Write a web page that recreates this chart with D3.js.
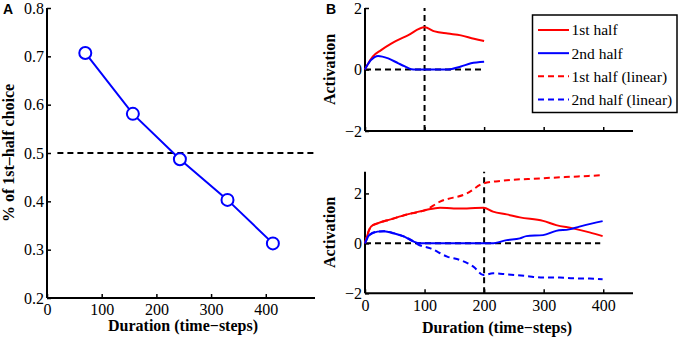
<!DOCTYPE html>
<html>
<head>
<meta charset="utf-8">
<script src="https://cdn.jsdelivr.net/npm/d3@7"></script>
<style>
  body { margin: 0; background: #fff; }
</style>
</head>
<body>
<div id="chart"></div>
<script>
// Panel A: choice proportion vs duration
const durationsA = [70, 157, 243, 330, 413];
const choiceA = [0.707, 0.581, 0.487, 0.403, 0.313];

// Panel B top (duration 200), [time, activation]
const topFirst = [[0,0],[4,0.15],[13,0.42],[27,0.63],[44,0.84],[72,1.11],[100,1.37],[117,1.24],[139,1.17],[161,1.11],[183,1.0],[200,0.93]];
const topSecond = [[0,0],[4,0.15],[16,0.4],[22,0.44],[39,0.36],[56,0.2],[67,0.1],[78,0.01],[85,0],[139,0],[161,0.1],[178,0.2],[200,0.25]];

// Panel B bottom (duration 400)
const botFirst = [[0,0],[10,0.67],[21,0.8],[43,0.96],[71,1.16],[101,1.33],[126,1.43],[149,1.4],[171,1.4],[199,1.43],[215,1.27],[238,1.16],[260,1.04],[299,0.9],[321,0.73],[349,0.6],[377,0.44],[399,0.29]];
const botSecond = [[0,0],[7,0.33],[21,0.47],[32,0.49],[49,0.4],[66,0.27],[82,0.07],[91,0],[213,0],[238,0.13],[260,0.2],[271,0.29],[299,0.33],[321,0.5],[343,0.56],[360,0.67],[382,0.8],[399,0.89]];
const botFirstLin = [[0,0],[10,0.67],[21,0.8],[43,0.96],[71,1.16],[101,1.33],[126,1.67],[171,2.0],[199,2.4],[227,2.5],[293,2.6],[349,2.67],[399,2.73]];
const botSecondLin = [[0,0],[7,0.33],[21,0.47],[32,0.49],[49,0.4],[66,0.27],[82,0.07],[88,-0.03],[110,-0.2],[138,-0.53],[160,-0.67],[182,-0.93],[199,-1.27],[215,-1.2],[238,-1.24],[271,-1.31],[299,-1.37],[327,-1.37],[349,-1.4],[377,-1.41],[399,-1.44]];

const xTicks = [0, 100, 200, 300, 400];
const yTicksA = [0.2, 0.3, 0.4, 0.5, 0.6, 0.7, 0.8];
const yTicksB = [-2, 0, 2];
const legendLabels = ["1st half", "2nd half", "1st half (linear)", "2nd half (linear)"];

const SERIF = "'Liberation Serif', 'Times New Roman', Times, serif";
const SANS = "'Liberation Sans', Arial, sans-serif";

const W = 679, H = 338;
const svg = d3.select("#chart").append("svg").attr("width", W).attr("height", H)
    .attr("font-family", SERIF);

function drawAxes(g, x, y, yTicks, yFmt, showXLabels) {
    const xAxis = g.append("g")
        .attr("transform", `translate(0,${y.range()[0]})`)
        .call(d3.axisBottom(x).tickValues(xTicks).tickSize(-4).tickPadding(showXLabels ? 6 : 0)
            .tickFormat(showXLabels ? d3.format("d") : ""));
    const yAxis = g.append("g")
        .attr("transform", `translate(${x.range()[0]},0)`)
        .call(d3.axisLeft(y).tickValues(yTicks).tickSize(-4).tickPadding(3).tickFormat(yFmt));
    [xAxis, yAxis].forEach(a => {
        a.attr("font-family", SERIF).attr("font-size", 16);
        a.select(".domain").attr("stroke", "#000").attr("stroke-width", 2);
        a.selectAll(".tick line").attr("stroke", "#000").attr("stroke-width", 1.5);
        a.selectAll("text").attr("fill", "#000");
    });
    xAxis.select(".domain").attr("d", `M${x.range()[0]},0H${x.range()[1]}`);
    yAxis.select(".domain").attr("d", `M0,${y.range()[0]}V${y.range()[1]}`);
}

// ---------- Panel A ----------
const xA = d3.scaleLinear().domain([0, 490]).range([47, 315]);
const yA = d3.scaleLinear().domain([0.2, 0.8]).range([298, 8]);
const gA = svg.append("g");
drawAxes(gA, xA, yA, yTicksA, d3.format(".1f"), true);

gA.append("line")
    .attr("x1", xA(19)).attr("x2", xA(490))
    .attr("y1", yA(0.5)).attr("y2", yA(0.5))
    .attr("stroke", "#000").attr("stroke-width", 2).attr("stroke-dasharray", "6,4");

const ptsA = durationsA.map((d, i) => [d, choiceA[i]]);
gA.append("path").datum(ptsA)
    .attr("fill", "none").attr("stroke", "#0000ff").attr("stroke-width", 2)
    .attr("d", d3.line().x(d => xA(d[0])).y(d => yA(d[1])));
gA.selectAll("circle").data(ptsA).enter().append("circle")
    .attr("cx", d => xA(d[0])).attr("cy", d => yA(d[1])).attr("r", 6)
    .attr("fill", "#fff").attr("stroke", "#0000ff").attr("stroke-width", 2);

gA.append("text").attr("transform", "translate(14,153) rotate(-90)")
    .attr("text-anchor", "middle").attr("font-size", 16).attr("font-weight", "bold")
    .text("% of 1st\u2013half choice");
gA.append("text").attr("x", 183).attr("y", 331)
    .attr("text-anchor", "middle").attr("font-size", 16).attr("font-weight", "bold")
    .text("Duration (time\u2212steps)");
svg.append("text").attr("x", 3).attr("y", 14).attr("font-size", 14).attr("font-weight", "bold")
    .attr("font-family", SANS).text("A");
svg.append("text").attr("x", 326).attr("y", 14).attr("font-size", 14).attr("font-weight", "bold")
    .attr("font-family", SANS).text("B");

// ---------- Panel B ----------
const xB = d3.scaleLinear().domain([0, 450]).range([365, 633]);
const yBt = d3.scaleLinear().domain([-2, 2]).range([131, 8]);
const yBb = d3.scaleLinear().domain([-2, 2.87]).range([293.3, 171.7]);

function drawPanel(y, series, vx, zeroEnd, showXLabels) {
    const g = svg.append("g");
    drawAxes(g, xB, y, yTicksB, d3.format("d"), showXLabels);
    g.append("line").attr("x1", xB(0)).attr("x2", xB(zeroEnd))
        .attr("y1", y(0)).attr("y2", y(0))
        .attr("stroke", "#000").attr("stroke-width", 2).attr("stroke-dasharray", "6,4");
    g.append("line").attr("x1", xB(vx)).attr("x2", xB(vx))
        .attr("y1", y.range()[0]).attr("y2", y.range()[1])
        .attr("stroke", "#000").attr("stroke-width", 2).attr("stroke-dasharray", "6,4");
    const line = d3.line().x(d => xB(d[0])).y(d => y(d[1])).curve(d3.curveMonotoneX);
    series.forEach(s => {
        g.append("path").datum(s.data)
            .attr("fill", "none").attr("stroke", s.color).attr("stroke-width", 2)
            .attr("stroke-dasharray", s.dash ? "6,4" : null)
            .attr("d", line);
    });
    g.append("text")
        .attr("transform", `translate(335,${(y.range()[0] + y.range()[1]) / 2}) rotate(-90)`)
        .attr("text-anchor", "middle").attr("font-size", 16).attr("font-weight", "bold")
        .text("Activation");
    return g;
}

drawPanel(yBt, [
    {data: topFirst, color: "#ff0000"},
    {data: topSecond, color: "#0000ff"}
], 100, 195, false);

const gBb = drawPanel(yBb, [
    {data: botFirstLin, color: "#ff0000", dash: true},
    {data: botSecondLin, color: "#0000ff", dash: true},
    {data: botFirst, color: "#ff0000"},
    {data: botSecond, color: "#0000ff"}
], 200, 395, true);
gBb.append("text").attr("x", 497).attr("y", 333)
    .attr("text-anchor", "middle").attr("font-size", 16).attr("font-weight", "bold")
    .text("Duration (time\u2212steps)");

// ---------- Legend ----------
const legendStyles = [
    {color: "#ff0000", dash: null},
    {color: "#0000ff", dash: null},
    {color: "#ff0000", dash: "6,4"},
    {color: "#0000ff", dash: "6,4"}
];
const lg = svg.append("g");
lg.append("rect").attr("x", 532.5).attr("y", 15).attr("width", 144.5).attr("height", 97.5)
    .attr("fill", "#fff").attr("stroke", "#000").attr("stroke-width", 1.5);
const legY = d3.scalePoint().domain(legendLabels).range([30, 99.5]);
legendLabels.forEach((lab, i) => {
    lg.append("line").attr("x1", 538).attr("x2", 569)
        .attr("y1", legY(lab)).attr("y2", legY(lab))
        .attr("stroke", legendStyles[i].color).attr("stroke-width", 2)
        .attr("stroke-dasharray", legendStyles[i].dash);
    lg.append("text").attr("x", 571.5).attr("y", legY(lab)).attr("dy", "0.35em")
        .attr("font-size", 15.5).text(lab);
});
</script>
</body>
</html>
